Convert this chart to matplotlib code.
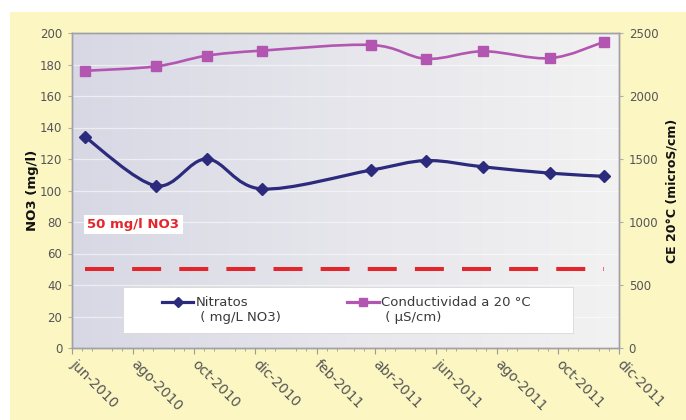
import numpy as np
import matplotlib
matplotlib.use("Agg")
import matplotlib.pyplot as plt
import matplotlib.dates as mdates
from matplotlib.path import Path
from matplotlib.patches import PathPatch, Rectangle
from matplotlib.lines import Line2D
from matplotlib.legend_handler import HandlerLine2D
from matplotlib.colors import LinearSegmentedColormap
import datetime as dt

# ---- data ----
dates = ["2010-06-14", "2010-08-24", "2010-10-14", "2010-12-08", "2011-03-28",
         "2011-05-22", "2011-07-18", "2011-09-23", "2011-11-16"]
nitratos = [134, 103, 120, 101, 113, 119, 115, 111, 109]
conductividad = [2200, 2235, 2320, 2360, 2405, 2295, 2355, 2300, 2430]
limite_no3 = 50
tick_dates = ["2010-06-01", "2010-08-01", "2010-10-01", "2010-12-01", "2011-02-01",
              "2011-04-01", "2011-06-01", "2011-08-01", "2011-10-01", "2011-12-01"]
tick_labels = ["jun-2010", "ago-2010", "oct-2010", "dic-2010", "feb-2011",
               "abr-2011", "jun-2011", "ago-2011", "oct-2011", "dic-2011"]
left_ticks = [0, 20, 40, 60, 80, 100, 120, 140, 160, 180, 200]
right_ticks = [0, 500, 1000, 1500, 2000, 2500]

plt.rcParams['font.family'] = ['DejaVu Sans']

xd = mdates.date2num([dt.datetime.strptime(d, "%Y-%m-%d") for d in dates])
xt = mdates.date2num([dt.datetime.strptime(d, "%Y-%m-%d") for d in tick_dates])

fig = plt.figure(figsize=(6.86, 4.2), dpi=100)
fig.patch.set_facecolor("white")
fig.patches.append(Rectangle((10/686, 0), 1 - 10/686, 1 - 12/420, transform=fig.transFigure,
                             facecolor="#fbf6c2", edgecolor="none", zorder=-10))

ax = fig.add_axes([72/686, 1 - 348/420, (619 - 72)/686, (348 - 33)/420])
ax.set_xlim(xt[0], xt[-1])
ax.set_ylim(0, 200)

# gradient background
grad = np.linspace(0, 1, 256).reshape(1, -1)
cmap = LinearSegmentedColormap.from_list("bg", ["#d7d8e4", "#e6e6ec", "#f2f2f2"])
ax.imshow(grad, extent=[0, 1, 0, 1], transform=ax.transAxes, aspect="auto",
          cmap=cmap, zorder=0)
ax.set_facecolor("none")
for y in left_ticks[1:-1]:
    ax.axhline(y, color="white", lw=0.9, alpha=0.55, zorder=1)


def smooth_path(xs, ys):
    xs = np.asarray(xs, float); ys = np.asarray(ys, float)
    P = np.column_stack([xs, ys])
    n = len(P)
    verts = [P[0]]
    codes = [Path.MOVETO]
    for i in range(n - 1):
        p0 = P[i - 1] if i > 0 else P[i]
        p1 = P[i]
        p2 = P[i + 1]
        p3 = P[i + 2] if i + 2 < n else P[i + 1]
        c1 = p1 + (p2 - p0) / 6.0
        c2 = p2 - (p3 - p1) / 6.0
        verts += [c1, c2, p2]
        codes += [Path.CURVE4] * 3
    return Path(verts, codes)


navy = "#2b2a7c"
magenta = "#b256b2"
red = "#e3262b"

ax.add_patch(PathPatch(smooth_path(xd, nitratos), facecolor="none", edgecolor=navy,
                       lw=2.3, zorder=4, capstyle="round", joinstyle="round"))
ax.plot(xd, nitratos, linestyle="none", marker="D", ms=6.5, color=navy, zorder=5)

ax.plot([xd[0], xd[-1]], [limite_no3, limite_no3], color=red, lw=2.9,
        dashes=(7.2, 4.5), zorder=3, solid_capstyle="butt", dash_capstyle="butt")

ax.annotate("50 mg/l NO3", xy=(xt[0] + 15.5, 78.5), xycoords="data", ha="left", va="center",
            color=red, fontsize=9.5, fontweight="bold", zorder=6,
            bbox=dict(boxstyle="square,pad=0.25", facecolor="white", edgecolor="none"))

ax2 = ax.twinx()
ax2.set_ylim(0, 2500)
ax2.add_patch(PathPatch(smooth_path(xd, conductividad), facecolor="none", edgecolor=magenta,
                        lw=1.9, zorder=4, capstyle="round", joinstyle="round"))
ax2.plot(xd, conductividad, linestyle="none", marker="s", ms=7.5, color=magenta, zorder=5)

# ticks
ax.set_xticks(xt)
ax.set_xticklabels(tick_labels, rotation=-45, ha="left", va="center",
                   rotation_mode="anchor", fontsize=10, color="#555555")
ax.xaxis.set_minor_locator(mdates.DayLocator(bymonthday=[11, 21]))
ax.tick_params(axis="x", which="major", length=4, color="#9a9a9a", pad=6)
ax.tick_params(axis="x", which="minor", length=2.5, color="#9a9a9a")
ax.set_yticks(left_ticks)
ax.tick_params(axis="y", length=3, color="#b0b0b0", labelsize=8.5, labelcolor="#555555", pad=4)
ax2.set_yticks(right_ticks)
ax2.tick_params(axis="y", length=3, color="#b0b0b0", labelsize=8.5, labelcolor="#555555", pad=4)

for a in (ax, ax2):
    for s in a.spines.values():
        s.set_color("#a0a0a6")
        s.set_linewidth(1.0)

ax.set_ylabel("NO3 (mg/l)", fontsize=9.5, fontweight="bold", color="#111111", labelpad=1)
ax2.set_ylabel("CE 20°C (microS/cm)", fontsize=9, fontweight="bold", color="#111111",
               rotation=90, labelpad=5)


class UpHandler(HandlerLine2D):
    def create_artists(self, legend, orig_handle, xdescent, ydescent, width, height,
                       fontsize, trans):
        arts = super().create_artists(legend, orig_handle, xdescent, ydescent, width,
                                      height, fontsize, trans)
        for a in arts:
            a.set_ydata(np.asarray(a.get_ydata(), float) + 0.6 * fontsize)
        return arts


# legend box
ax2.add_patch(Rectangle((0.093, 0.048), 0.823, 0.146, transform=ax2.transAxes,
                        facecolor="white", edgecolor="#d8d8d8", lw=0.6, zorder=6))
handles = [Line2D([], [], color=navy, lw=2.3, marker="D", ms=5.5),
           Line2D([], [], color=magenta, lw=2.3, marker="s", ms=6)]
leg = ax2.legend(handles, ["Nitratos\n ( mg/L NO3)", "Conductividad a 20 °C\n ( µS/cm)"],
                 loc="center left", bbox_to_anchor=(0.152, 0.121), ncol=2, frameon=False,
                 fontsize=9.5, handlelength=2.4, handletextpad=0.2, columnspacing=5.0,
                 borderpad=0, labelcolor="#3a3a3a",
                 handler_map={Line2D: UpHandler()})
leg.set_zorder(7)

fig.savefig("out.png", dpi=100, facecolor=fig.get_facecolor())
